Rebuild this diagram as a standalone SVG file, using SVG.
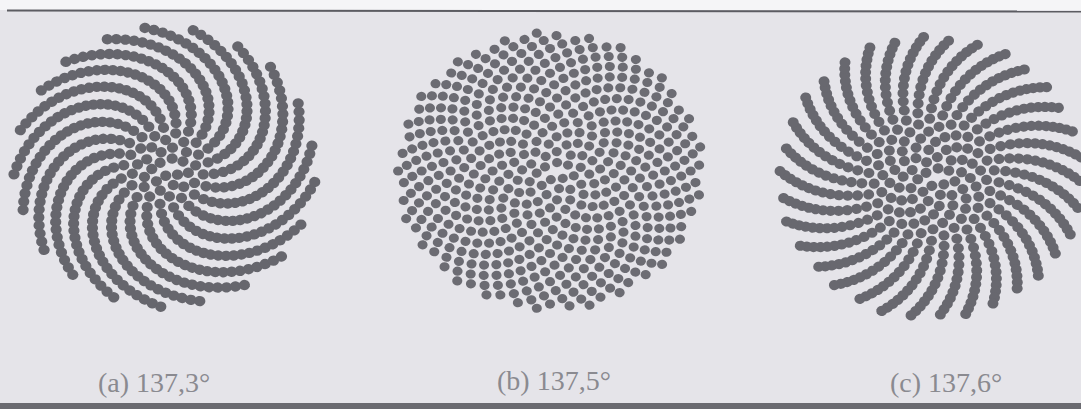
<svg xmlns="http://www.w3.org/2000/svg" xmlns:xlink="http://www.w3.org/1999/xlink" width="1081" height="409" viewBox="0 0 1081 409">
<style>
.lbl{font-family:"Liberation Serif","Times New Roman",serif;font-size:28px;fill:#8a8a90}
</style>
<defs>
<circle id="p" style="--k:calc(1 + var(--b0) + 2*var(--b1) + 4*var(--b2) + 8*var(--b3) + 16*var(--b4) + 32*var(--b5) + 64*var(--b6) + 128*var(--b7) + 256*var(--b8));cx:calc(sqrt(var(--k))*var(--c)*1px);cy:0px;r:var(--dr);transform:rotate(calc(var(--k)*var(--a)*1deg))"/>
<g id="L1"><use href="#p" style="--b0:0"/><use href="#p" style="--b0:1"/></g>
<g id="L2"><use href="#L1" style="--b1:0"/><use href="#L1" style="--b1:1"/></g>
<g id="L3"><use href="#L2" style="--b2:0"/><use href="#L2" style="--b2:1"/></g>
<g id="L4"><use href="#L3" style="--b3:0"/><use href="#L3" style="--b3:1"/></g>
<g id="L5"><use href="#L4" style="--b4:0"/><use href="#L4" style="--b4:1"/></g>
<g id="L6"><use href="#L5" style="--b5:0"/><use href="#L5" style="--b5:1"/></g>
<g id="L7"><use href="#L6" style="--b6:0"/><use href="#L6" style="--b6:1"/></g>
<g id="L8"><use href="#L7" style="--b7:0"/><use href="#L7" style="--b7:1"/></g>
<g id="L9"><use href="#L8" style="--b8:0"/><use href="#L8" style="--b8:1"/></g>
</defs>
<rect x="0" y="0" width="1081" height="409" fill="#e5e4e9"/>
<rect x="0" y="0" width="1081" height="10" fill="#f5f5f7"/>
<line x1="7" y1="10.5" x2="1081" y2="11.5" stroke="#5c5c62" stroke-width="2"/>
<rect x="0" y="403" width="1081" height="6" fill="#6a6a70"/>
<g id="fig-a"><use href="#L9" transform="translate(165,167) scale(1.08,1)" style="--a:-137.3;--c:6.2;--dr:5.2px;fill:#66666d"/></g>
<g id="fig-b"><use href="#L9" transform="translate(550,171) scale(1.1,1)" style="--a:-137.5;--c:6.15;--dr:4.6px;fill:#6c6c73"/></g>
<g id="fig-c"><use href="#L9" transform="translate(931,177) scale(1.08,1)" style="--a:-137.6;--c:6.25;--dr:5.1px;fill:#68686f"/></g>
<text class="lbl" x="98" y="392">(a) 137,3°</text>
<text class="lbl" x="497" y="390">(b) 137,5°</text>
<text class="lbl" x="890" y="392">(c) 137,6°</text>
</svg>
